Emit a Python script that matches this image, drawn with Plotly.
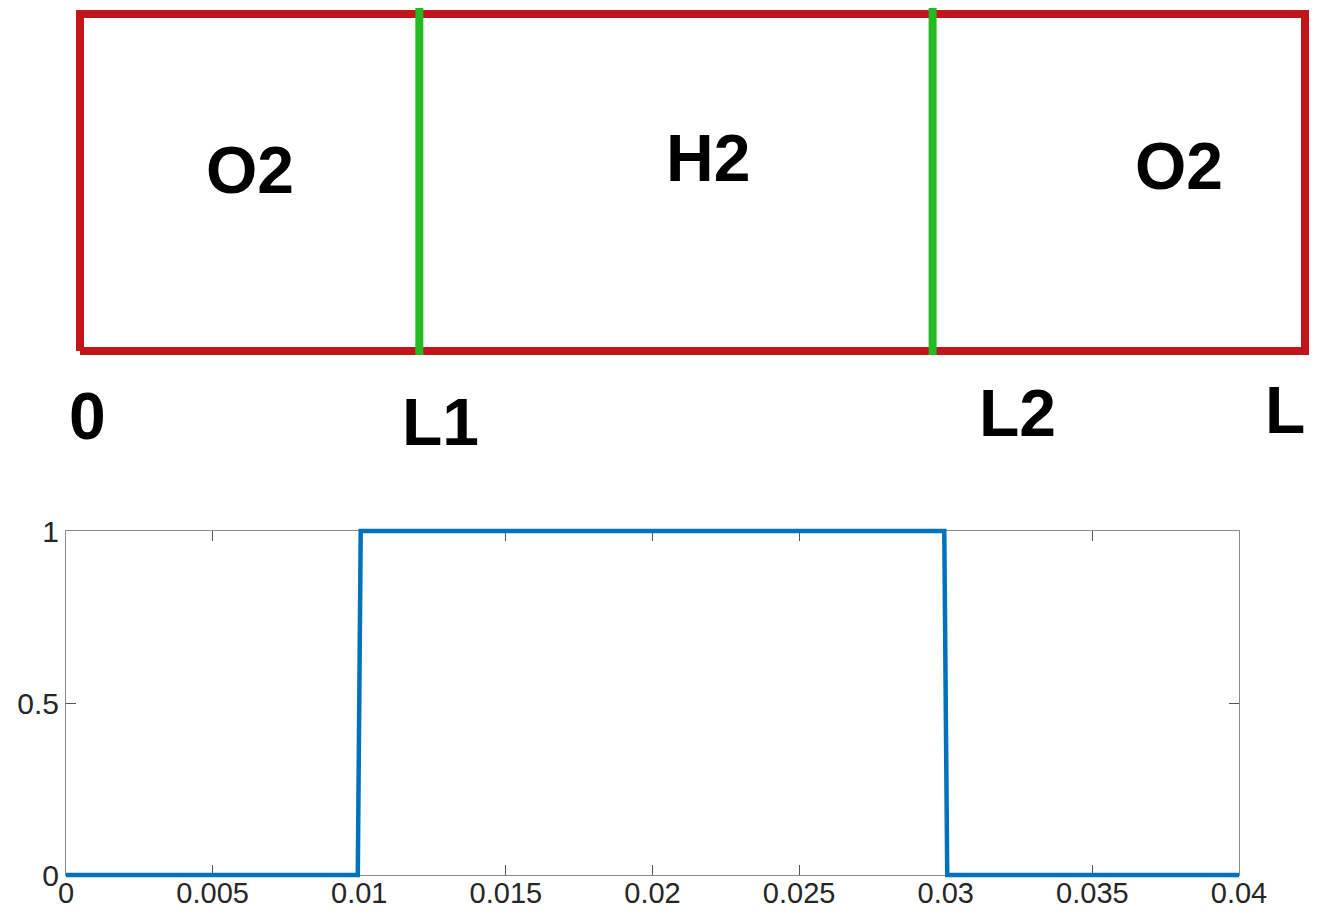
import numpy as np
import plotly.graph_objects as go

# ---- data ----
# lower plot: species indicator along the domain
x_vals = [0.0, 0.00995, 0.01005, 0.02995, 0.03005, 0.04]
y_vals = [0, 0, 1, 1, 0, 0]
x_ticks = [0, 0.005, 0.01, 0.015, 0.02, 0.025, 0.03, 0.035, 0.04]
x_tick_text = ["0", "0.005", "0.01", "0.015", "0.02", "0.025", "0.03", "0.035", "0.04"]
y_ticks = [0, 0.5, 1]
y_tick_text = ["0", "0.5", "1"]

# upper diagram: boundaries (fraction of L) and labels
bounds = [0.0, 0.277, 0.696, 1.0]
bound_labels = ["0", "L1", "L2", "L"]
region_labels = ["O2", "H2", "O2"]

# page body has an 8px margin: figure is the window minus it
OFF = 8
W, H = 1317 - 2 * OFF, 920 - 2 * OFF
fig = go.Figure()

# --- diagram (axes x2/y2) ---
red = "#C2141B"
green = "#22BB22"
fig.add_trace(go.Scatter(
    x=[bounds[0], bounds[-1], bounds[-1], bounds[0], bounds[0]],
    y=[0, 0, 1, 1, 0], mode="lines",
    line=dict(color=red, width=8), xaxis="x2", yaxis="y2",
    showlegend=False, hoverinfo="skip"))
for b in bounds[1:-1]:
    fig.add_trace(go.Scatter(
        x=[b, b], y=[-0.012, 1.024], mode="lines",
        line=dict(color=green, width=8), xaxis="x2", yaxis="y2",
        showlegend=False, hoverinfo="skip"))

lab_font = dict(family="Liberation Sans, Arial", size=66, color="black")
region_shift = [0, 32, 60]
region_yshift = [13, 25, 17]
for i, lab in enumerate(region_labels):
    fig.add_annotation(x=(bounds[i] + bounds[i + 1]) / 2, y=0.5, xref="x2", yref="y2",
                       text="<b>%s</b>" % lab, showarrow=False, font=lab_font,
                       xshift=region_shift[i], yshift=region_yshift[i])
bound_xshift = [7, 21, 85, -20]
bound_y = [-0.193, -0.212, -0.184, -0.175]
for b, lab, xs, yy in zip(bounds, bound_labels, bound_xshift, bound_y):
    fig.add_annotation(x=b, y=yy, xref="x2", yref="y2", text="<b>%s</b>" % lab,
                       showarrow=False, font=lab_font, xshift=xs, borderpad=0)

# diagram pixel frame (window coords): x 80..1305, y 351 (bottom) .. 14 (top)
dx0, dx1, dyb, dyt = 80 - OFF, 1305 - OFF, 351 - OFF, 14 - OFF
dpx = dx1 - dx0
dpy = dyb - dyt
y2_dom_lo = 0.48
y2_bottom_px = (1 - y2_dom_lo) * H

# --- lower plot: box/ticks on x/y, curve on slightly larger x3/y3 so it is not clipped ---
x0, x1 = 66 - OFF, 1239 - OFF
ytop, ybot = 531 - OFF, 875 - OFF
pad = 10
xspan = x1 - x0
yspan = ybot - ytop
fig.add_trace(go.Scatter(x=x_vals, y=y_vals, mode="lines",
                         line=dict(color="#0072BD", width=4.5),
                         xaxis="x3", yaxis="y3",
                         showlegend=False, hoverinfo="skip"))
fig.add_trace(go.Scatter(x=[0, 0.04], y=[0, 1], mode="lines", line=dict(width=0),
                         opacity=0, showlegend=False, hoverinfo="skip"))

axis_common = dict(showgrid=False, zeroline=False, showline=True, linecolor="#8a8a8a",
                   linewidth=1, mirror="ticks", ticks="inside", ticklen=10,
                   tickcolor="#555555", tickwidth=1,
                   layer="below traces", automargin=False, fixedrange=True)
fig.update_layout(
    template="none",
    width=W, height=H, autosize=False,
    margin=dict(l=0, r=0, t=0, b=0, pad=0, autoexpand=False),
    paper_bgcolor="white", plot_bgcolor="rgba(0,0,0,0)",
    showlegend=False,
    xaxis=dict(domain=[x0 / W, x1 / W], range=[0, 0.04], tickvals=x_ticks,
               ticktext=x_tick_text, anchor="y", ticklabelstandoff=-8,
               tickfont=dict(family="Liberation Sans, Arial", size=29, color="#262626"),
               **axis_common),
    yaxis=dict(domain=[1 - ybot / H, 1 - ytop / H], range=[0, 1], tickvals=y_ticks,
               ticktext=y_tick_text, anchor="x",
               tickfont=dict(family="Liberation Sans, Arial", size=30, color="#262626"),
               **axis_common),
    xaxis2=dict(domain=[0, 1], range=[-dx0 / dpx, (W - dx0) / dpx], visible=False,
                anchor="y2", fixedrange=True, automargin=False),
    yaxis2=dict(domain=[y2_dom_lo, 1.0],
                range=[-(y2_bottom_px - dyb) / dpy, 1 + dyt / dpy], visible=False,
                anchor="x2", fixedrange=True, automargin=False),
    xaxis3=dict(domain=[(x0 - pad) / W, (x1 + pad) / W],
                range=[-pad * 0.04 / xspan, 0.04 + pad * 0.04 / xspan],
                visible=False, anchor="y3", fixedrange=True, automargin=False),
    yaxis3=dict(domain=[1 - (ybot + pad) / H, 1 - (ytop - pad) / H],
                range=[-pad / yspan, 1 + pad / yspan],
                visible=False, anchor="x3", fixedrange=True, automargin=False),
)

fig.write_html("out.html")
